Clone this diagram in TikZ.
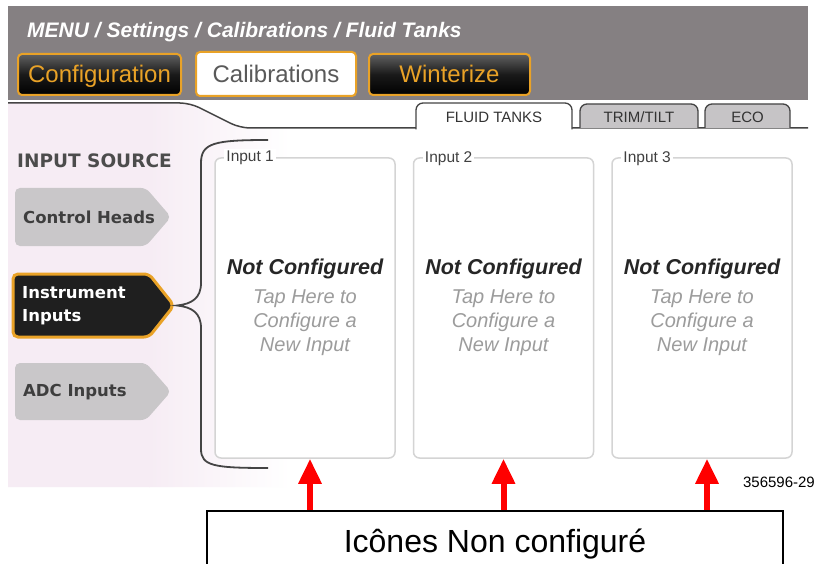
\documentclass[tikz,border=0pt]{standalone}
\usepackage{fontspec}
\setmainfont{Liberation Sans}
\newfontfamily\dvs{DejaVu Sans}
\usetikzlibrary{arrows.meta,calc}
\definecolor{hdr}{HTML}{858082}
\definecolor{org}{HTML}{E9A227}
\definecolor{btngray}{HTML}{C9C7C9}
\definecolor{pinkbg}{HTML}{F6ECF4}
\definecolor{boxline}{HTML}{D4D4D4}
\definecolor{darkline}{HTML}{444444}
\definecolor{tapgray}{HTML}{9C9C9C}
\definecolor{txtdark}{HTML}{3E3E3E}
\definecolor{tabgray}{HTML}{C6C4C6}
\begin{document}
\begin{tikzpicture}[x=1pt,y=-1pt,
  hbtn/.style={draw=org, line width=2pt, rounded corners=4pt, inner sep=0pt,
    minimum width=#1, text height=17pt, text depth=0pt, font=\fontsize{24}{24}\selectfont},
  darkbtn/.style={hbtn=#1, minimum height=41pt, top color=black!62, bottom color=black, middle color=black!90, text=org},
  lightbtn/.style={hbtn=#1, minimum height=44pt, fill=white, text=black!65},
  tabtxt/.style={font=\fontsize{15}{15}\selectfont, text=black!80, inner sep=0pt},
  tabline/.style={draw=darkline, line width=1.3pt, rounded corners=7pt},
  srcgray/.style={fill=btngray, rounded corners=5pt},
  srcdark/.style={fill=black!88, draw=org, line width=3pt, rounded corners=5pt},
  srctext/.style={anchor=west, inner sep=0pt, align=left,
    font=\dvs\bfseries\fontsize{16.5}{23}\selectfont},
  inbox/.style={draw=boxline, line width=1.5pt, fill=white, rounded corners=6pt,
    minimum width=180pt, minimum height=300pt, inner sep=0pt},
  inlbl/.style={anchor=west, fill=white, inner sep=2pt, text=black!75,
    font=\fontsize{15.5}{15.5}\selectfont},
  notconf/.style={font=\bfseries\itshape\fontsize{21.5}{21.5}\selectfont, text=black!85, inner sep=0pt},
  tap/.style={font=\itshape\fontsize{20}{24}\selectfont, text=tapgray, align=center, inner sep=0pt},
  redarr/.style={draw=red, line width=6pt, -{Triangle[width=22pt,length=25pt]}},
  bracestyle/.style={draw=darkline, line width=1.8pt}
]
\useasboundingbox (0,0) rectangle (816,564);
\fill[white] (0,0) rectangle (816,564);
% header band
\fill[hdr] (8,6) rectangle (808,100);
\node[anchor=west, text=white, inner sep=0pt, font=\bfseries\itshape\fontsize{21}{21}\selectfont] (title) at (27,32.5) {MENU / Settings / Calibrations / Fluid Tanks};
\node[darkbtn=163pt] (cfg) at (99.5,74.5) {Configuration};
\node[lightbtn=160pt] (cal) at (276,74) {Calibrations};
\node[darkbtn=161pt] (win) at (449.5,74.5) {Winterize};
% panel background
\begin{scope}
  \clip (8,103) -- (190,103) -- (240,128) -- (808,128) -- (808,487) -- (8,487) -- cycle;
  \fill[pinkbg] (8,100) rectangle (150,490);
  \shade[left color=pinkbg, right color=white] (149,100) rectangle (290,490);
\end{scope}
\draw[darkline, line width=1.5pt, rounded corners=10pt] (8,103) -- (190,103) -- (240,128) -- (808,128);
% tabs
\draw[tabline, fill=white] (416,129.5) -- (416,103) -- (572,103) -- (572,129.5);
\draw[tabline, fill=tabgray] (580,128) -- (580,104) -- (698,104) -- (698,128);
\draw[tabline, fill=tabgray] (705,128) -- (705,104) -- (790,104) -- (790,128);
\node[tabtxt] (ft) at (494,117.5) {FLUID TANKS};
\node[tabtxt] (tt) at (639,117.5) {TRIM/TILT};
\node[tabtxt] (eco) at (747.5,117.5) {ECO};
% input source
\node[anchor=west, inner sep=0pt, text=black!70, font=\dvs\bfseries\fontsize{18.5}{18.5}\selectfont] (isrc) at (17,160.5) {INPUT SOURCE};
\fill[srcgray] (15,188) -- (146,188) -- (171,217) -- (146,246) -- (15,246) -- cycle;
\node[srctext, text=txtdark] (ch) at (23,217.5) {Control Heads};
\draw[srcdark] (13,274) -- (149,274) -- (174,305.5) -- (149,337) -- (13,337) -- cycle;
\node[srctext, text=white] (ii) at (22,306) {Instrument\\Inputs};
\fill[srcgray] (15,363) -- (146,363) -- (171,391.5) -- (146,420) -- (15,420) -- cycle;
\node[srctext, text=txtdark] (adc) at (23,392) {ADC Inputs};
% brace
\coordinate (bp) at (177,305.5);
\draw[bracestyle] (268,140) .. controls (214,140) and (201,143) .. (201,163) -- (201,283)
  .. controls (201,298) and (192,304) .. (bp)
  .. controls (192,307) and (201,313) .. (201,328) -- (201,449)
  .. controls (201,466) and (214,468) .. (268,468);
% input boxes
\foreach \i/\cx in {1/305,2/503.5,3/702}{
  \node[inbox] (in\i) at (\cx,308) {};
  \node[inlbl] (lb\i) at ($(in\i.north west)+(10,1)$) {Input \i};
  \node[notconf] (nc\i) at (\cx,269) {Not Configured};
  \node[tap] (tap\i) at (\cx,322.5) {Tap Here to\\Configure a\\New Input};
}
% figure number
\node[anchor=east, inner sep=0pt, font=\fontsize{15}{15}\selectfont] (fig) at (815,482) {356596-29};
% bottom label
\node[draw=black, line width=1.5pt, minimum width=576pt, minimum height=66pt, anchor=north,
  inner sep=0pt, font=\fontsize{32}{32}\selectfont] (lbl) at (495,510) {Icônes Non configuré};
% arrows
\draw[redarr] ([xshift=5pt]in1.south |- lbl.north) -- ([xshift=5pt]in1.south);
\draw[redarr] (in2.south |- lbl.north) -- (in2.south);
\draw[redarr] ([xshift=5pt]in3.south |- lbl.north) -- ([xshift=5pt]in3.south);
\end{tikzpicture}
\end{document}
